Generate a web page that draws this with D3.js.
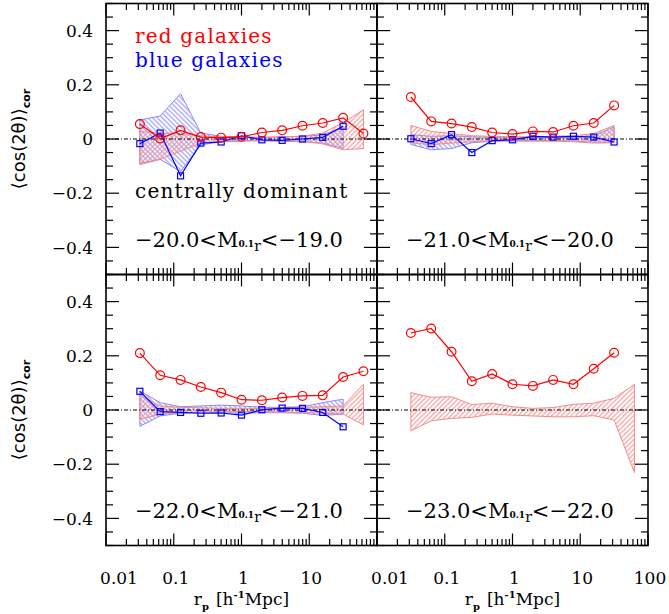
<!DOCTYPE html>
<html><head><meta charset="utf-8">
<script src="https://cdn.jsdelivr.net/npm/d3@7/dist/d3.min.js"></script>
<style>body{margin:0;background:#fff}svg{display:block}</style>
</head><body>
<svg id="c" width="669" height="614"></svg>
<script>
// ---- data ----
const rp = [0.0316, 0.0631, 0.126, 0.251, 0.501, 1.0, 2.0, 3.98, 7.94, 15.8, 31.6, 63.1];

const yTicks = [-0.4, -0.2, 0, 0.2, 0.4];
const yTickLabels = ["\u22120.4", "\u22120.2", "0", "0.2", "0.4"];
const xTicksLeft = [0.01, 0.1, 1, 10];
const xTickLabelsLeft = ["0.01", "0.1", "1", "10"];
const xTicksRight = [0.01, 0.1, 1, 10, 100];
const xTickLabelsRight = ["0.01", "0.1", "1", "10", "100"];

const magLo = ["\u221220.0", "\u221221.0", "\u221222.0", "\u221223.0"];
const magHi = ["\u221219.0", "\u221220.0", "\u221221.0", "\u221222.0"];
const legendLabels = ["red galaxies", "blue galaxies"];
const noteLabel = "centrally dominant";

// panel 1: -20 < M < -19
const red1  = [0.055, 0.002, 0.032, 0.007, 0.005, 0.008, 0.024, 0.032, 0.049, 0.059, 0.078, 0.020];
const blue1 = [-0.017, 0.022, -0.136, -0.015, -0.011, 0.012, -0.003, -0.005, 0.000, 0.006, 0.047];
const red1Up = [0.028, 0.022, 0.020, 0.012, 0.008, 0.006, 0.006, 0.008, 0.010, 0.022, 0.060, 0.108];
const red1Lo = [-0.095, -0.075, -0.045, -0.015, -0.008, -0.006, -0.006, -0.008, -0.008, -0.018, -0.040, -0.035];
const blue1Up = [0.070, 0.085, 0.167, 0.022, 0.010, 0.008, 0.006, 0.008, 0.010, 0.015, 0.045];
const blue1Lo = [-0.090, -0.075, -0.120, -0.022, -0.010, -0.008, -0.006, -0.008, -0.010, -0.015, -0.035];

// panel 2: -21 < M < -20
const red2  = [0.155, 0.065, 0.057, 0.044, 0.024, 0.018, 0.028, 0.026, 0.049, 0.059, 0.124];
const blue2 = [0.001, -0.017, 0.016, -0.050, -0.006, -0.003, 0.010, 0.007, 0.010, 0.007, -0.011];
const red2Up = [0.050, 0.028, 0.020, 0.012, 0.010, 0.008, 0.008, 0.010, 0.012, 0.020, 0.050];
const red2Lo = [-0.014, -0.021, -0.015, -0.010, -0.008, -0.008, -0.008, -0.008, -0.010, -0.015, -0.014];
const blue2Up = [0.016, 0.010, 0.012, 0.008, 0.006, 0.006, 0.006, 0.006, 0.008, 0.012, 0.045];
const blue2Lo = [-0.020, -0.040, -0.035, -0.014, -0.008, -0.006, -0.006, -0.006, -0.008, -0.012, -0.012];

// panel 3: -22 < M < -21
const red3  = [0.210, 0.128, 0.111, 0.085, 0.064, 0.038, 0.036, 0.046, 0.052, 0.054, 0.122, 0.143];
const blue3 = [0.069, -0.006, -0.009, -0.012, -0.011, -0.019, 0.001, 0.007, 0.006, -0.009, -0.062];
const red3Up = [0.054, 0.015, 0.010, 0.008, 0.006, 0.006, 0.006, 0.008, 0.010, 0.012, 0.015, 0.095];
const red3Lo = [-0.035, -0.015, -0.010, -0.008, -0.006, -0.006, -0.006, -0.008, -0.010, -0.012, -0.015, -0.055];
const blue3Up = [0.070, 0.027, 0.012, 0.015, 0.018, 0.015, 0.010, 0.010, 0.012, 0.027, 0.040];
const blue3Lo = [-0.060, -0.022, -0.012, -0.010, -0.010, -0.012, -0.010, -0.010, -0.012, -0.020, -0.015];

// panel 4: -23 < M < -22
const red4  = [0.284, 0.301, 0.215, 0.106, 0.133, 0.095, 0.089, 0.111, 0.095, 0.152, 0.211];
const red4Up = [0.064, 0.047, 0.049, 0.020, 0.025, 0.012, 0.006, 0.009, 0.021, 0.025, 0.043, 0.095];
const red4Lo = [-0.077, -0.040, -0.031, -0.027, -0.015, -0.019, -0.022, -0.025, -0.025, -0.021, -0.037, -0.231];

const panels = [
  {col:0,row:0, red:red1, blue:blue1, redUp:red1Up, redLo:red1Lo, blueUp:blue1Up, blueLo:blue1Lo},
  {col:1,row:0, red:red2, blue:blue2, redUp:red2Up, redLo:red2Lo, blueUp:blue2Up, blueLo:blue2Lo},
  {col:0,row:1, red:red3, blue:blue3, redUp:red3Up, redLo:red3Lo, blueUp:blue3Up, blueLo:blue3Lo},
  {col:1,row:1, red:red4, blue:null,  redUp:red4Up, redLo:red4Lo, blueUp:null,   blueLo:null}
];

// ---- layout ----
const X0 = 106, PW = 271, Y0 = 3.5, PH = 271;
const RED = "#ff0000", BLUE = "#0000ff", RED_L = "#f48a8a", BLUE_L = "#8a8af6";
const SERIF = "'DejaVu Serif', serif", SANS = "'DejaVu Sans', sans-serif";

const svg = d3.select("#c");
const defs = svg.append("defs");
function hatch(id, color, angle){
  const p = defs.append("pattern").attr("id", id).attr("patternUnits","userSpaceOnUse")
    .attr("width", 3.4).attr("height", 3.4).attr("patternTransform", `rotate(${angle})`);
  p.append("line").attr("x1",0.8).attr("y1",0).attr("x2",0.8).attr("y2",3.4)
    .attr("stroke", color).attr("stroke-width", 1);
}
hatch("hRed", RED_L, 45);
hatch("hBlue", BLUE_L, -45);

panels.forEach((P, i) => {
  const px = X0 + P.col*PW, py = Y0 + P.row*PH;
  const x = d3.scaleLog().domain([0.01, 100]).range([px, px+PW]);
  const y = d3.scaleLinear().domain([-0.5, 0.5]).range([py+PH, py]);
  const g = svg.append("g");

  const cid = "clip"+i;
  defs.append("clipPath").attr("id", cid).append("rect")
    .attr("x", px).attr("y", py).attr("width", PW).attr("height", PH);
  const gc = g.append("g").attr("clip-path", `url(#${cid})`);

  const area = (up, lo) => d3.area()
    .x((d, k) => x(rp[k])).y0((d, k) => y(lo[k])).y1((d, k) => y(up[k]))(up);

  if (P.blueUp) {
    gc.append("path").attr("d", area(P.blueUp, P.blueLo))
      .attr("fill", "url(#hBlue)").attr("stroke", BLUE_L).attr("stroke-width", 1);
  }
  gc.append("path").attr("d", area(P.redUp, P.redLo))
    .attr("fill", "url(#hRed)").attr("stroke", RED_L).attr("stroke-width", 1);

  gc.append("line").attr("x1", px).attr("x2", px+PW).attr("y1", y(0)).attr("y2", y(0))
    .attr("stroke", "#000").attr("stroke-width", 1).attr("stroke-dasharray", "4,2,1,2");

  const line = vals => d3.line().x((d, k) => x(rp[k])).y(d => y(d))(vals);

  if (P.blue) {
    gc.append("path").attr("d", line(P.blue)).attr("fill","none").attr("stroke", BLUE).attr("stroke-width", 1.2);
    gc.selectAll(".sq").data(P.blue).enter().append("rect")
      .attr("x", (d,k) => x(rp[k]) - 3).attr("y", d => y(d) - 3)
      .attr("width", 6).attr("height", 6)
      .attr("fill", "none").attr("stroke", BLUE).attr("stroke-width", 1.2);
  }
  gc.append("path").attr("d", line(P.red)).attr("fill","none").attr("stroke", RED).attr("stroke-width", 1.2);
  gc.selectAll(".ci").data(P.red).enter().append("circle")
    .attr("cx", (d,k) => x(rp[k])).attr("cy", d => y(d)).attr("r", 4.4)
    .attr("fill", "none").attr("stroke", RED).attr("stroke-width", 1.2);

  const tg = g.append("g").attr("stroke", "#000").attr("stroke-width", 1.2);
  x.ticks().forEach(t => {
    const major = Math.abs(Math.log10(t) - Math.round(Math.log10(t))) < 1e-6;
    const L = major ? 12 : 6.5;
    const xx = x(t);
    tg.append("line").attr("x1", xx).attr("x2", xx).attr("y1", py+PH).attr("y2", py+PH-L);
    tg.append("line").attr("x1", xx).attr("x2", xx).attr("y1", py).attr("y2", py+L);
  });
  y.ticks(20).forEach(t => {
    const major = Math.abs(t*5 - Math.round(t*5)) < 1e-6;
    const L = major ? 13 : 7;
    const yy = y(t);
    tg.append("line").attr("x1", px).attr("x2", px+L).attr("y1", yy).attr("y2", yy);
    tg.append("line").attr("x1", px+PW).attr("x2", px+PW-L).attr("y1", yy).attr("y2", yy);
  });

  g.append("rect").attr("x", px).attr("y", py).attr("width", PW).attr("height", PH)
    .attr("fill", "none").attr("stroke", "#000").attr("stroke-width", 1.6);

  if (P.col === 0) {
    yTicks.forEach((t, k) => {
      g.append("text").attr("x", 93).attr("y", y(t)).attr("dy", "0.36em")
        .attr("text-anchor", "end").attr("font-family", SERIF).attr("font-size", 17)
        .text(yTickLabels[k]);
    });
    const yl = g.append("text").attr("transform", `translate(25,${y(0)}) rotate(-90)`)
      .attr("text-anchor", "middle").attr("font-family", SANS).attr("font-size", 18);
    yl.append("tspan").text("\u27E8cos(2\u03B8)\u27E9");
    yl.append("tspan").attr("font-size", 11).attr("font-weight", "bold").attr("dy", 5).text("cor");
  }
  if (P.row === 1) {
    const ticks = P.col === 0 ? xTicksLeft : xTicksRight;
    const labs = P.col === 0 ? xTickLabelsLeft : xTickLabelsRight;
    ticks.forEach((t, k) => {
      const off = labs[k] === "0.01" ? 13 : 2;
      g.append("text").attr("x", x(t) + off).attr("y", 584)
        .attr("text-anchor", "middle").attr("font-family", SERIF).attr("font-size", 17)
        .text(labs[k]);
    });
    const xl = g.append("text").attr("x", x(1)).attr("y", 605)
      .attr("text-anchor", "middle").attr("font-family", SERIF).attr("font-size", 17);
    xl.append("tspan").text("r");
    xl.append("tspan").attr("font-size", 10).attr("font-weight", "bold").attr("dy", 5).text("p");
    xl.append("tspan").attr("dy", -5).attr("dx", 7).text("[h");
    xl.append("tspan").attr("font-size", 10).attr("font-weight", "bold").attr("dy", -7).text("-1");
    xl.append("tspan").attr("dy", 7).text("Mpc]");
  }

  const ml = g.append("text").attr("x", px + 29).attr("y", py + 243)
    .attr("font-family", SERIF).attr("font-size", 21);
  ml.append("tspan").text(magLo[i] + "<M");
  ml.append("tspan").attr("font-size", 9).attr("font-weight", "bold").text("0.1");
  ml.append("tspan").attr("font-size", 14).attr("dy", 4).text("r");
  ml.append("tspan").attr("dy", -4).text("<" + magHi[i]);

  if (i === 0) {
    g.append("text").attr("x", px + 29).attr("y", py + 39).attr("font-family", SERIF)
      .attr("font-size", 20).attr("letter-spacing", 1.2).attr("fill", RED).text(legendLabels[0]);
    g.append("text").attr("x", px + 29).attr("y", py + 63).attr("font-family", SERIF)
      .attr("font-size", 20).attr("letter-spacing", 1.2).attr("fill", BLUE).text(legendLabels[1]);
    g.append("text").attr("x", px + 29).attr("y", py + 194.5).attr("font-family", SERIF)
      .attr("font-size", 20).attr("letter-spacing", 1.2).attr("fill", "#000").text(noteLabel);
  }
});
</script>
</body></html>
